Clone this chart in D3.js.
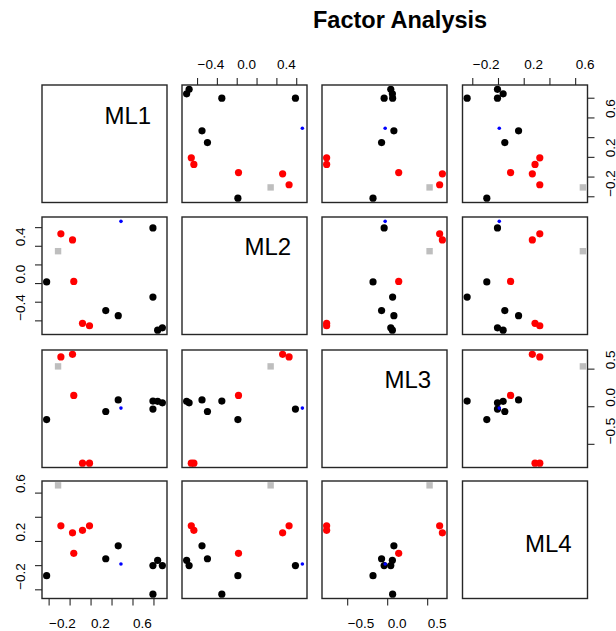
<!DOCTYPE html>
<html>
<head>
<meta charset="utf-8">
<script src="https://d3js.org/d3.v7.min.js"></script>
<style>
  body { margin: 0; background: #fff; }
  svg text { font-family: "Liberation Sans", Arial, sans-serif; }
</style>
</head>
<body>
<div id="chart"></div>
<script>
// factor loadings, one entry per item
var varNames = ["ML1", "ML2", "ML3", "ML4"];
var ml1 = [0.885, 0.84, 0.795, 0.795, 0.464, 0.345, -0.219, 0.49, 0.19, 0.123, 0.04, 0.028, -0.083, -0.11];
var ml2 = [-0.48, -0.505, -0.15, 0.592, -0.35, -0.295, 0.012, 0.662, -0.458, -0.432, 0.018, 0.463, 0.528, 0.342];
var ml3 = [0.045, 0.065, 0.068, -0.038, 0.084, -0.07, -0.177, -0.025, -0.757, -0.757, 0.144, 0.69, 0.656, 0.53];
var ml4 = [-0.004, 0.04, -0.24, -0.004, 0.16, 0.053, -0.087, 0.01, 0.325, 0.288, 0.098, 0.267, 0.325, 0.66];
var cluster = [1, 1, 1, 1, 1, 1, 1, 3, 2, 2, 2, 2, 2, 4];

// axis ticks and which of them carry a label
var ticks = [
  [-0.2, 0, 0.2, 0.4, 0.6, 0.8],
  [-0.4, -0.2, 0, 0.2, 0.4, 0.6],
  [-0.5, 0, 0.5],
  [-0.2, 0, 0.2, 0.4, 0.6]
];
var tickLabels = [
  [-0.2, 0.2, 0.6],
  [-0.4, 0, 0.4],
  [-0.5, 0, 0.5],
  [-0.2, 0.2, 0.6]
];

var cols = [ml1, ml2, ml3, ml4];

var width = 616, height = 631;
var colX = [42, 182, 322, 462.5], rowY = [85, 217, 350, 481];
var pw = 125, ph = 117.5;
var labelBase = [124, 255, 388, 552];

var colour = {1: "#000000", 2: "#ff0000", 3: "#0000ff", 4: "#bebebe"};

var svg = d3.select("#chart").append("svg")
    .attr("width", width)
    .attr("height", height);

// domains like R: data range extended by 4%
var domains = cols.map(function(v) {
  var e = d3.extent(v), r = e[1] - e[0];
  return [e[0] - 0.04 * r, e[1] + 0.04 * r];
});

var x = domains.map(function(d, j) {
  return d3.scaleLinear().domain(d).range([colX[j], colX[j] + pw]);
});
var y = domains.map(function(d, i) {
  return d3.scaleLinear().domain(d).range([rowY[i] + ph, rowY[i]]);
});

function fmt(j) {
  return function(d) {
    var lab = tickLabels[j].some(function(t) { return Math.abs(t - d) < 1e-9; });
    return lab ? d3.format(".1f")(d) : "";
  };
}

var points = ml1.map(function(d, k) {
  return {v: [ml1[k], ml2[k], ml3[k], ml4[k]], c: cluster[k]};
});

for (var i = 0; i < 4; i++) {
  for (var j = 0; j < 4; j++) {
    var g = svg.append("g");
    if (i == j) {
      g.append("text")
        .attr("x", colX[j] + pw / 2)
        .attr("y", labelBase[i])
        .style("font-size", "24px")
        .text(varNames[i]);
    } else {
      var pts = g.selectAll(".pt")
        .data(points)
        .enter();
      pts.filter(function(d) { return d.c != 4; })
        .append("circle")
        .attr("cx", function(d) { return x[j](d.v[j]); })
        .attr("cy", function(d) { return y[i](d.v[i]); })
        .attr("r", function(d) { return d.c == 3 ? 1.8 : 3.6; })
        .attr("fill", function(d) { return colour[d.c]; });
      pts.filter(function(d) { return d.c == 4; })
        .append("rect")
        .attr("x", function(d) { return x[j](d.v[j]) - 3.2; })
        .attr("y", function(d) { return y[i](d.v[i]) - 3.2; })
        .attr("width", 6.4)
        .attr("height", 6.4)
        .attr("fill", colour[4]);
    }
    g.append("rect")
      .attr("x", colX[j])
      .attr("y", rowY[i])
      .attr("width", pw)
      .attr("height", ph)
      .attr("fill", "none")
      .attr("stroke", "#262626")
      .attr("stroke-width", 1.4);
  }
}

function styleAxis(sel) {
  sel.select(".domain").remove();
  sel.selectAll(".tick line").attr("stroke", "#262626").attr("stroke-width", 1.1);
  sel.selectAll(".tick text")
    .attr("fill", "#000")
    .style("font-size", "13.5px")
    .attr("text-anchor", "start")
    .attr("dy", null);
}

// top axes (columns 2 and 4)
[1, 3].forEach(function(j) {
  var a = svg.append("g")
    .attr("transform", "translate(0," + rowY[0] + ")")
    .call(d3.axisTop(x[j]).tickValues(ticks[j]).tickSize(7).tickFormat(fmt(j)));
  styleAxis(a);
  a.selectAll(".tick text").attr("x", 0).attr("y", -16.5);
});

// bottom axes (columns 1 and 3)
[0, 2].forEach(function(j) {
  var a = svg.append("g")
    .attr("transform", "translate(0," + (rowY[3] + ph) + ")")
    .call(d3.axisBottom(x[j]).tickValues(ticks[j]).tickSize(7).tickFormat(fmt(j)));
  styleAxis(a);
  a.selectAll(".tick text").attr("x", 0).attr("y", 29.5);
});

// left axes (rows 2 and 4)
[1, 3].forEach(function(i) {
  var a = svg.append("g")
    .attr("transform", "translate(" + colX[0] + ",0)")
    .call(d3.axisLeft(y[i]).tickValues(ticks[i]).tickSize(7).tickFormat(fmt(i)));
  styleAxis(a);
  a.selectAll(".tick text")
    .attr("transform", "rotate(-90)")
    .attr("x", 0).attr("y", -17);
});

// right axes (rows 1 and 3)
[0, 2].forEach(function(i) {
  var a = svg.append("g")
    .attr("transform", "translate(" + (colX[3] + pw) + ",0)")
    .call(d3.axisRight(y[i]).tickValues(ticks[i]).tickSize(7).tickFormat(fmt(i)));
  styleAxis(a);
  a.selectAll(".tick text")
    .attr("transform", "rotate(-90)")
    .attr("x", 0).attr("y", 27);
});

svg.append("text")
  .attr("x", 313)
  .attr("y", 28)
  .style("font-size", "23.5px")
  .style("font-weight", "bold")
  .text("Factor Analysis");
</script>
</body>
</html>
